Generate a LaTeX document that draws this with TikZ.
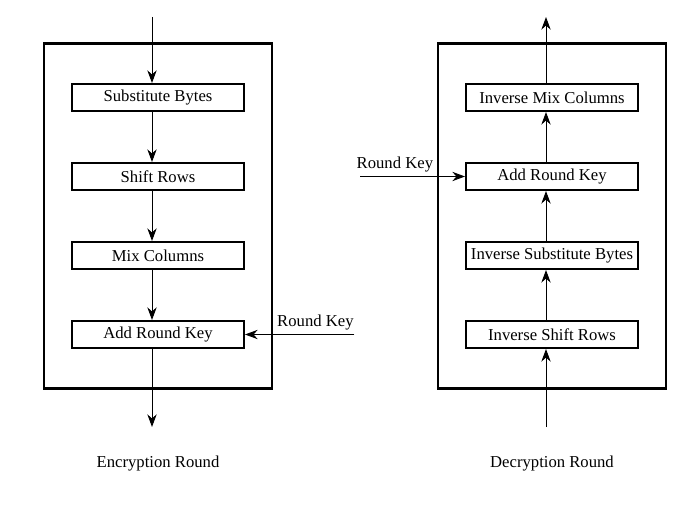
\documentclass[tikz,border=0pt]{standalone}
\usepackage{fontspec}
\setmainfont{Liberation Serif}
\usepackage{tikz}
\usetikzlibrary{positioning,fit}
\usetikzlibrary{arrows.meta}
\tikzset{%
      >={Stealth[width=7pt,length=9.5pt]},
}
\tikzstyle{stage} = [rectangle, draw, line width=1.5pt, minimum width=129pt,
    minimum height=20.25pt, inner sep=0pt, text centered]
\tikzstyle{roundframe} = [rectangle, draw, line width=1.6pt,
    inner xsep=20.25pt, inner ysep=29.6pt]
\tikzstyle{line} = [draw, ->, line width=0.7pt]

\begin{document}
\begin{tikzpicture}[x=0.75pt, y=-0.75pt, node distance=37.5pt,
    every node/.style={font=\fontsize{12.5}{14}\selectfont}]
        \useasboundingbox (0,0) rectangle (689,524);

        % encryption round
        \node[stage] (sb) at (158,97.5) {Substitute Bytes};
        \node[stage, below=of sb] (sr) {Shift Rows};
        \node[stage, below=of sr] (mc) {Mix Columns};
        \node[stage, below=of mc] (ark) {Add Round Key};
        \node[roundframe, fit=(sb) (ark)] (enc) {};

        \coordinate[above=49.5pt of sb, xshift=-4.5pt] (encin);
        \coordinate[below=58.5pt of ark, xshift=-4.5pt] (encout);
        \coordinate[right=82pt of ark] (enckey);
        \node[anchor=south east, xshift=3pt] (enckeylabel) at (enckey) {Round Key};
        \node[below=77pt of ark] (enclabel) {Encryption Round};

        % decryption round
        \node[stage] (imc) at (552,97.5) {Inverse Mix Columns};
        \node[stage, below=of imc] (dark) {Add Round Key};
        \node[stage, below=of dark] (isb) {Inverse Substitute Bytes};
        \node[stage, below=of isb] (isr) {Inverse Shift Rows};
        \node[roundframe, fit=(imc) (isr)] (dec) {};

        \coordinate[below=58.5pt of isr, xshift=-4.5pt] (decin);
        \coordinate[above=49.5pt of imc, xshift=-4.5pt] (decout);
        \coordinate[left=78.75pt of dark] (deckey);
        \node[anchor=south west, xshift=-6pt] (deckeylabel) at (deckey) {Round Key};
        \node[below=77pt of isr] (declabel) {Decryption Round};

        \path [line] (encin) -- ([xshift=-4.5pt]sb.north);
        \path [line] ([xshift=-4.5pt]sb.south) -- ([xshift=-4.5pt]sr.north);
        \path [line] ([xshift=-4.5pt]sr.south) -- ([xshift=-4.5pt]mc.north);
        \path [line] ([xshift=-4.5pt]mc.south) -- ([xshift=-4.5pt]ark.north);
        \path [line] ([xshift=-4.5pt]ark.south) -- (encout);
        \path [line] (enckey) -- (ark);

        \path [line] (decin) -- ([xshift=-4.5pt]isr.south);
        \path [line] ([xshift=-4.5pt]isr.north) -- ([xshift=-4.5pt]isb.south);
        \path [line] ([xshift=-4.5pt]isb.north) -- ([xshift=-4.5pt]dark.south);
        \path [line] ([xshift=-4.5pt]dark.north) -- ([xshift=-4.5pt]imc.south);
        \path [line] ([xshift=-4.5pt]imc.north) -- (decout);
        \path [line] (deckey) -- (dark);
\end{tikzpicture}
\end{document}
